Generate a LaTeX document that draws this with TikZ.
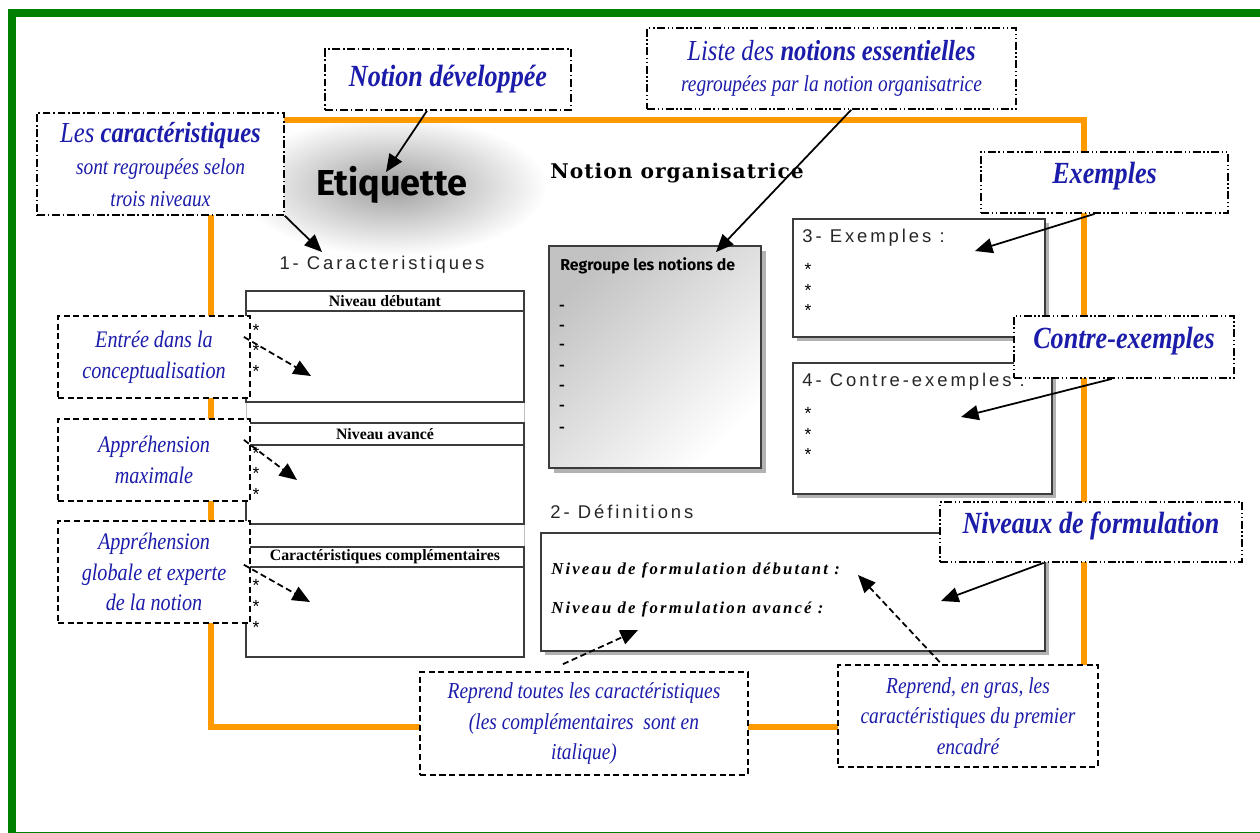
\documentclass[tikz,border=0pt]{standalone}
\usepackage{fontspec}
\setmainfont{Liberation Serif}
\newfontfamily\callfont[FakeStretch=0.85]{Liberation Serif}
\newfontfamily\etiqfont{Fira Sans}
\newfontfamily\spacedfont[LetterSpace=16]{Liberation Sans}
\newfontfamily\heavyfont[LetterSpace=5]{DejaVu Serif}
\newfontfamily\defnfont[LetterSpace=13]{Liberation Serif}
\newfontfamily\grpfont{Fira Sans}
\newfontfamily\starfont{Liberation Sans}
\usetikzlibrary{arrows.meta,calc}
\definecolor{framegreen}{RGB}{0,128,0}
\definecolor{frameorange}{RGB}{255,153,0}
\definecolor{callblue}{RGB}{28,28,170}
\definecolor{boxgray}{RGB}{60,60,60}
\tikzset{
  callout/.style={draw, fill=white, line width=1pt, align=center, text=callblue,
    inner sep=2pt, font=\callfont\itshape\fontsize{13}{17.5}\selectfont},
  sidecall/.style={callout, font=\callfont\itshape\fontsize{13.5}{17.5}\selectfont},
  headcall/.style={callout, font=\callfont\bfseries\itshape\fontsize{17.5}{20}\selectfont},
  dashdotline/.style={dash pattern=on 4.5pt off 1.6pt on 0.8pt off 1.6pt},
  dashdotdotline/.style={dash pattern=on 4.5pt off 1.5pt on 0.8pt off 1.5pt on 0.8pt off 1.5pt},
  dashline/.style={dash pattern=on 3.5pt off 2pt},
  arr/.style={-{Triangle[length=10pt,width=8.5pt]}, line width=1pt},
  darr/.style={arr, dashline},
  posterbox/.style={draw=boxgray, fill=white, line width=0.8pt},
  shadowbox/.style={fill=black!30},
  spaced/.style={font=\spacedfont\fontsize{10.5}{12}\selectfont, text=black!85, inner sep=0pt},
  star/.style={font=\starfont\fontsize{10}{11}\selectfont, inner sep=0pt},
  tabhead/.style={font=\bfseries\fontsize{9}{10}\selectfont, inner sep=0pt},
  defline/.style={font=\defnfont\bfseries\itshape\fontsize{9.5}{11}\selectfont, inner sep=0pt, anchor=west},
  dashmark/.style={font=\grpfont\bfseries\fontsize{8}{9}\selectfont, inner sep=0pt}
}
\begin{document}
\begin{tikzpicture}[x=0.02cm,y=-0.02cm]
\useasboundingbox (0,0) rectangle (1260,832);
\clip (0,0) rectangle (1260,832);
\fill[white] (0,0) rectangle (1260,832);
% glow behind the label
\shade[inner color=black!38, outer color=white] (392,186) ellipse [x radius=155, y radius=70];
% frames
\draw[framegreen, line width=4.5pt] (12,13) rectangle (1275,836);
\draw[frameorange, line width=3pt] (211,120) rectangle (1084,727);

% ---------- poster content ----------
\node[font=\etiqfont\bfseries\fontsize{20.5}{24}\selectfont] (etiq) at (392,185) {Etiquette};
\node[font=\heavyfont\bfseries\fontsize{11.5}{13}\selectfont] (norg) at (677,173) {Notion organisatrice};
\node[spaced] (car) at (382,265) {1- Caracteristiques};

% tables
\draw[black!25] (246,402) -- (246,423) (524,402) -- (524,423) (246,524) -- (246,547) (524,524) -- (524,547);
\draw[posterbox] (246,291) rectangle (524,402);
\draw[boxgray, line width=0.8pt] (246,311) -- (524,311);
\node[tabhead] (h1) at (385,301) {Niveau débutant};
\draw[posterbox] (246,423) rectangle (524,524);
\draw[boxgray, line width=0.8pt] (246,445) -- (524,445);
\node[tabhead] (h2) at (385,434) {Niveau avancé};
\draw[posterbox] (246,547) rectangle (524,657);
\draw[boxgray, line width=0.8pt] (246,567) -- (524,567);
\node[tabhead] (h3) at (385,557) {Caractéristiques complémentaires};
\foreach \y [count=\i] in {330,350,371,453,473,494,585,606,627}
  \node[star] (s\i) at (256,\y) {*};

% notions box
\fill[black!30] (554,251) rectangle (766,473);
\shadedraw[top color=black!24, bottom color=white, shading angle=45, draw=boxgray, line width=0.8pt] (549,246) rectangle (761,468);
\node[font=\grpfont\bfseries\fontsize{9}{10}\selectfont, anchor=west, inner sep=0pt] (grp) at (560,266) {Regroupe les notions de};
\foreach \y [count=\i] in {308,328,347,368,388,408,430}
  \node[dashmark] (d\i) at (562,\y) {-};

% examples boxes
\fill[shadowbox] (797,223) rectangle (1049,341);
\draw[posterbox] (793,219) rectangle (1045,337);
\node[spaced, anchor=west] (exh) at (802,238) {3- Exemples :};
\foreach \y [count=\i] in {269,290,310}
  \node[star] (ex\i) at (808,\y) {*};
\fill[shadowbox] (797,367) rectangle (1056,498);
\draw[posterbox] (793,363) rectangle (1052,494);
\node[spaced, anchor=west] (ceh) at (802,382) {4- Contre-exemples :};
\foreach \y [count=\i] in {413,434,454}
  \node[star] (ce\i) at (808,\y) {*};

% definitions
\node[spaced, anchor=west] (defh) at (550,512) {2- Définitions};
\fill[shadowbox] (545,537) rectangle (1049,655);
\draw[posterbox] (541,533) rectangle (1045,651);
\node[defline] (dl1) at (551,570) {Niveau de formulation débutant :};
\node[defline] (dl2) at (551,609) {Niveau de formulation avancé :};

% ---------- callouts ----------
\node[headcall, dashdotline, minimum width=4.92cm, minimum height=1.22cm] (nd) at (448,79.5) {Notion développée};
\node[callout, dashdotdotline, minimum width=7.38cm, minimum height=1.62cm] (ld) at (831.5,68.5)
  {{\fontsize{16.5}{19}\selectfont Liste des \textbf{notions essentielles}}\\ regroupées par la notion organisatrice};
\node[callout, dashdotline, minimum width=4.94cm, minimum height=2.04cm, text depth=0pt] (lc) at (160.5,164)
  {{\fontsize{16.5}{18}\selectfont Les \textbf{caractéristiques}}\\[1pt] sont regroupées selon\\[0.5pt] trois niveaux};
\node[headcall, dashdotdotline, minimum width=4.94cm, minimum height=1.22cm, text depth=11pt] (ex) at (1104.5,182.5) {Exemples};
\node[headcall, dashdotdotline, minimum width=4.4cm, minimum height=1.24cm, text depth=11pt] (ce) at (1124,347) {Contre-exemples};
\node[headcall, dashdotdotline, minimum width=6.04cm, minimum height=1.2cm, text depth=11pt] (nf) at (1091,532) {Niveaux de formulation};
\node[sidecall, dashline, minimum width=3.84cm, minimum height=1.64cm] (e1) at (154,357) {Entrée dans la\\ conceptualisation};
\node[sidecall, dashline, minimum width=3.84cm, minimum height=1.64cm] (e2) at (154,460) {Appréhension\\ maximale};
\node[sidecall, dashline, minimum width=3.84cm, minimum height=2.04cm] (e3) at (154,572) {Appréhension\\ globale et experte\\ de la notion};
\node[callout, dashline, minimum width=6.56cm, minimum height=2.06cm] (r1) at (584,723.5)
  {Reprend toutes les caractéristiques\\ (les complémentaires~ sont en\\ italique)};
\node[callout, dashline, minimum width=5.2cm, minimum height=2.04cm] (r2) at (968,716)
  {Reprend, en gras, les\\ caractéristiques du premier\\ encadré};

% ---------- arrow targets ----------
\coordinate (tnd) at (386,172);
\coordinate (tlc) at (322,252);
\coordinate (tld) at (716,252);
\coordinate (tex) at (975,251);
\coordinate (tce) at (961,417);
\coordinate (tnf) at (941,601);
\coordinate (te1) at (311,376);
\coordinate (te2) at (297,480);
\coordinate (te3) at (310,602);
\coordinate (tr1) at (638,630);
\coordinate (tr2) at (858,575);

% ---------- arrows ----------
\draw[arr] ($(nd.south west)!0.415!(nd.south east)$) -- (tnd);
\draw[arr] (lc.south east) -- (tlc);
\draw[arr] ($(ld.south west)!0.553!(ld.south east)$) -- (tld);
\draw[arr] ($(ex.south west)!0.46!(ex.south east)$) -- (tex);
\draw[arr] ($(ce.south west)!0.445!(ce.south east)$) -- (tce);
\draw[arr] ($(nf.south west)!0.344!(nf.south east)$) -- (tnf);
\draw[darr] ($(e1.north east)!0.26!(e1.south east)+(-7,0)$) -- (te1);
\draw[darr] ($(e2.north east)!0.26!(e2.south east)+(-7,0)$) -- (te2);
\draw[darr] ($(e3.north east)!0.43!(e3.south east)+(-7,0)$) -- (te3);
\draw[darr] ($(r1.north west)!0.436!(r1.north east)+(0,-7)$) -- (tr1);
\draw[darr] ($(r2.north west)!0.392!(r2.north east)+(0,-2)$) -- (tr2);
\end{tikzpicture}
\end{document}
